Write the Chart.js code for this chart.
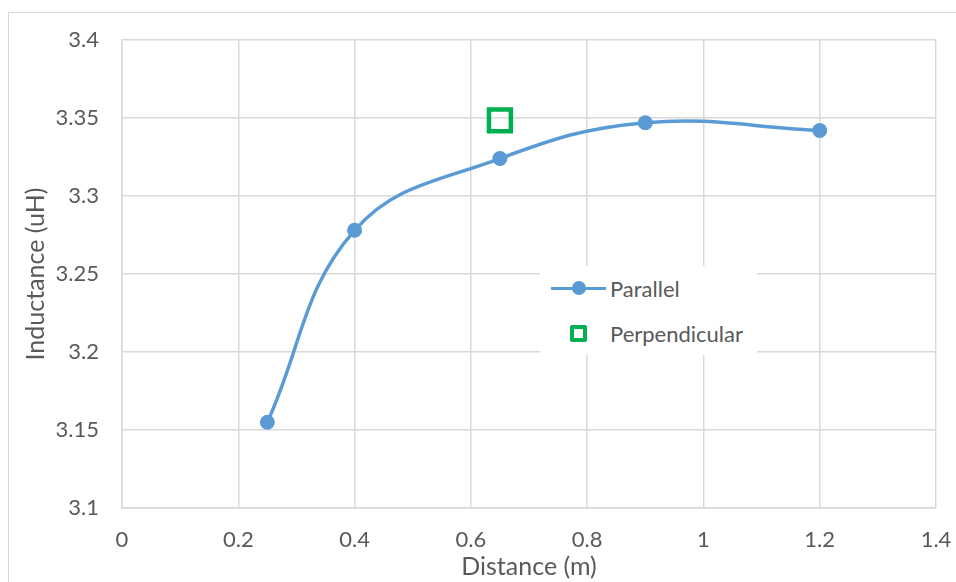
<!DOCTYPE html>
<html>
<head>
<meta charset="utf-8">
<script src="https://cdn.jsdelivr.net/npm/chart.js@4"></script>
<style>
  html, body { margin: 0; padding: 0; background: #fff; }
  #wrap { position: relative; width: 956px; height: 582px; overflow: hidden; }
  #frame { position: absolute; left: 8px; top: 12px; width: 1000px; height: 700px; border: 1.5px solid #D9D9D9; box-sizing: border-box; }
  #c { position: absolute; left: 0; top: 0; }
  #legend { position: absolute; left: 540px; top: 266px; width: 217px; height: 89px; background: #fff;
            font-family: Lato, "Noto Sans", sans-serif; font-size: 22px; color: #595959; }
  .row { position: absolute; left: 0; height: 30px; display: flex; align-items: center; }
  .sym { position: relative; width: 56px; height: 30px; margin-left: 11px; margin-right: 3px; }
  .line { position: absolute; left: 0; top: 13.5px; width: 55px; height: 3px; background: #5B9BD5; }
  .dot { position: absolute; left: 20.5px; top: 8px; width: 14px; height: 14px; border-radius: 50%; background: #5B9BD5; }
  .sq { position: absolute; left: 19px; top: 6.5px; width: 17px; height: 17px; border: 4.5px solid #00B050; box-sizing: border-box; border-radius: 2px; background: #fff; }
</style>
</head>
<body>
<div id="wrap">
  <div id="frame"></div>
  <canvas id="c" width="956" height="582"></canvas>
  <div id="legend">
    <div class="row" style="top:7px"><div class="sym"><div class="line"></div><div class="dot"></div></div><span>Parallel</span></div>
    <div class="row" style="top:52px"><div class="sym"><div class="sq"></div></div><span>Perpendicular</span></div>
  </div>
</div>
<script>
const parallelX = [0.25, 0.4, 0.65, 0.9, 1.2];
const parallelY = [3.155, 3.278, 3.324, 3.347, 3.342];
const perpendicularX = [0.65];
const perpendicularY = [3.3485];
const xTicks = [0, 0.2, 0.4, 0.6, 0.8, 1, 1.2, 1.4];
const yTicks = [3.1, 3.15, 3.2, 3.25, 3.3, 3.35, 3.4];

const FONT = 'Lato, "Noto Sans", sans-serif';
const GRID = '#D9D9D9';
const TXT = '#595959';

new Chart(document.getElementById('c'), {
  type: 'scatter',
  data: {
    datasets: [
      {
        label: 'Parallel',
        data: parallelX.map((x, i) => ({ x, y: parallelY[i] })),
        showLine: true,
        borderColor: '#5B9BD5',
        backgroundColor: '#5B9BD5',
        borderWidth: 3.5,
        tension: 0.4,
        pointRadius: 7.5,
        pointHoverRadius: 7.5,
        pointBorderWidth: 0,
        order: 2
      },
      {
        label: 'Perpendicular',
        data: perpendicularX.map((x, i) => ({ x, y: perpendicularY[i] })),
        showLine: false,
        pointStyle: 'rect',
        pointRadius: 15.5,
        pointHoverRadius: 15.5,
        borderColor: '#00B050',
        backgroundColor: 'rgba(255,255,255,0)',
        pointBorderWidth: 4.5,
        borderWidth: 4.5,
        order: 1
      }
    ]
  },
  options: {
    responsive: false,
    animation: false,
    events: [],
    layout: { padding: { left: 21, right: 19, top: 40, bottom: 0 } },
    plugins: { legend: { display: false }, tooltip: { enabled: false } },
    scales: {
      x: {
        type: 'linear',
        min: 0, max: 1.4,
        afterBuildTicks: s => { s.ticks = xTicks.map(v => ({ value: v })); },
        afterFit: s => { s.height = 74; s.paddingLeft = 0; s.paddingRight = 0; },
        grid: { color: GRID, lineWidth: 1.5, drawTicks: false },
        border: { color: GRID, width: 1.5 },
        ticks: { color: TXT, font: { family: FONT, size: 22 }, padding: 19, maxRotation: 0,
                 callback: v => String(Math.round(v * 10) / 10) },
        title: { display: true, text: 'Distance (m)', color: TXT, font: { family: FONT, size: 25 }, padding: { top: 2, bottom: 0 } }
      },
      y: {
        type: 'linear',
        min: 3.1, max: 3.4,
        afterBuildTicks: s => { s.ticks = yTicks.map(v => ({ value: v })); },
        afterFit: s => { s.width = 101; s.paddingTop = 0; s.paddingBottom = 0; },
        grid: { color: GRID, lineWidth: 1.5, drawTicks: false },
        border: { color: GRID, width: 1.5 },
        ticks: { color: TXT, font: { family: FONT, size: 22 }, padding: 23,
                 callback: v => String(Math.round(v * 100) / 100) },
        title: { display: true, text: 'Inductance (uH)', color: TXT, font: { family: FONT, size: 25 }, padding: { top: 0, bottom: 0 } }
      }
    }
  }
});
</script>
</body>
</html>
